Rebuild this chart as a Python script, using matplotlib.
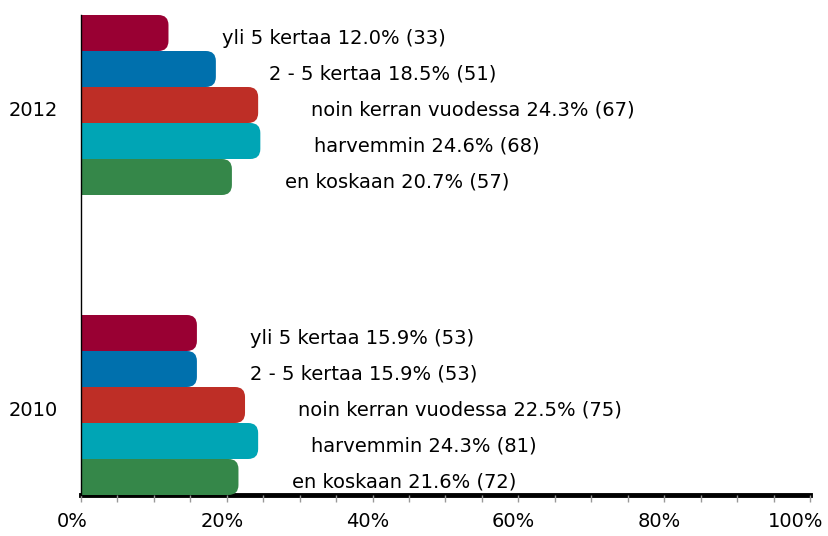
import matplotlib
matplotlib.use("Agg")
import matplotlib.pyplot as plt
from matplotlib.patches import FancyBboxPatch
from matplotlib.transforms import ScaledTranslation
import numpy as np

years = ["2010", "2012"]
series = ["yli 5 kertaa", "2 - 5 kertaa", "noin kerran vuodessa", "harvemmin", "en koskaan"]
pct_2010 = [15.9, 15.9, 22.5, 24.3, 21.6]
cnt_2010 = [53, 53, 75, 81, 72]
pct_2012 = [12.0, 18.5, 24.3, 24.6, 20.7]
cnt_2012 = [33, 51, 67, 68, 57]
colors = ["#990033", "#0070AD", "#BE2E26", "#00A5B5", "#358749"]
xticks = [0, 20, 40, 60, 80, 100]
xticklabels = ["0%", "20%", "40%", "60%", "80%", "100%"]

W, H = 829, 536
fig = plt.figure(figsize=(W / 100, H / 100), dpi=100)
ax = fig.add_axes([81 / W, 1 - 495 / H, (810 - 81) / W, (495 - 15) / H])
ax.set_xlim(0, 100)
ax.set_ylim(-0.3, 1.3)

bh = 0.12
px_x = 100 / (810 - 81)       # data units per px in x
px_y = 1.6 / (495 - 15)       # data units per px in y
r_px = 10

data = [(pct_2010, cnt_2010), (pct_2012, cnt_2012)]
for gi, (pcts, cnts) in enumerate(data):
    for si, (p, c) in enumerate(zip(pcts, cnts)):
        yc = gi + 0.3 - bh / 2 - si * bh
        x0 = -3
        patch = FancyBboxPatch((x0, yc - bh / 2), p - x0, bh,
                               boxstyle=f"round,pad=0,rounding_size={r_px * px_x}",
                               mutation_aspect=px_y / px_x,
                               facecolor=colors[si], edgecolor="none", zorder=2)
        ax.add_patch(patch)
        ax.text(p + 7.3, yc - 5 * px_y, f"{series[si]} {p:.1f}% ({c})", va="center", ha="left",
                fontsize=14, color="black", zorder=3)

ax.set_yticks([0, 1])
ax.set_yticklabels(years, fontsize=14)
ax.tick_params(axis="y", length=0, pad=16.5)
for lab in ax.get_yticklabels():
    lab.set_transform(lab.get_transform() + ScaledTranslation(0, -3 / 100, fig.dpi_scale_trans))
ax.set_xticks(xticks)
ax.set_xticklabels(xticklabels, fontsize=14)
ax.set_xticks(np.arange(0, 101, 5), minor=True)
ax.tick_params(axis="x", which="both", direction="out", length=5, color="#999999", width=1, pad=7.5)
xl = ax.get_xticklabels()
for i, lab in enumerate(xl):
    dx = -14 if i == len(xl) - 1 else (-9 if i == 0 else -5)
    lab.set_transform(lab.get_transform() + ScaledTranslation(dx / 100, 0, fig.dpi_scale_trans))

for s in ["top", "right"]:
    ax.spines[s].set_visible(False)
ax.spines["bottom"].set_linewidth(3.5)
ax.spines["bottom"].set_color("black")
ax.spines["bottom"].set_zorder(1)
ax.spines["left"].set_linewidth(1)
ax.spines["left"].set_color("black")

fig.savefig("out.png", dpi=100)
